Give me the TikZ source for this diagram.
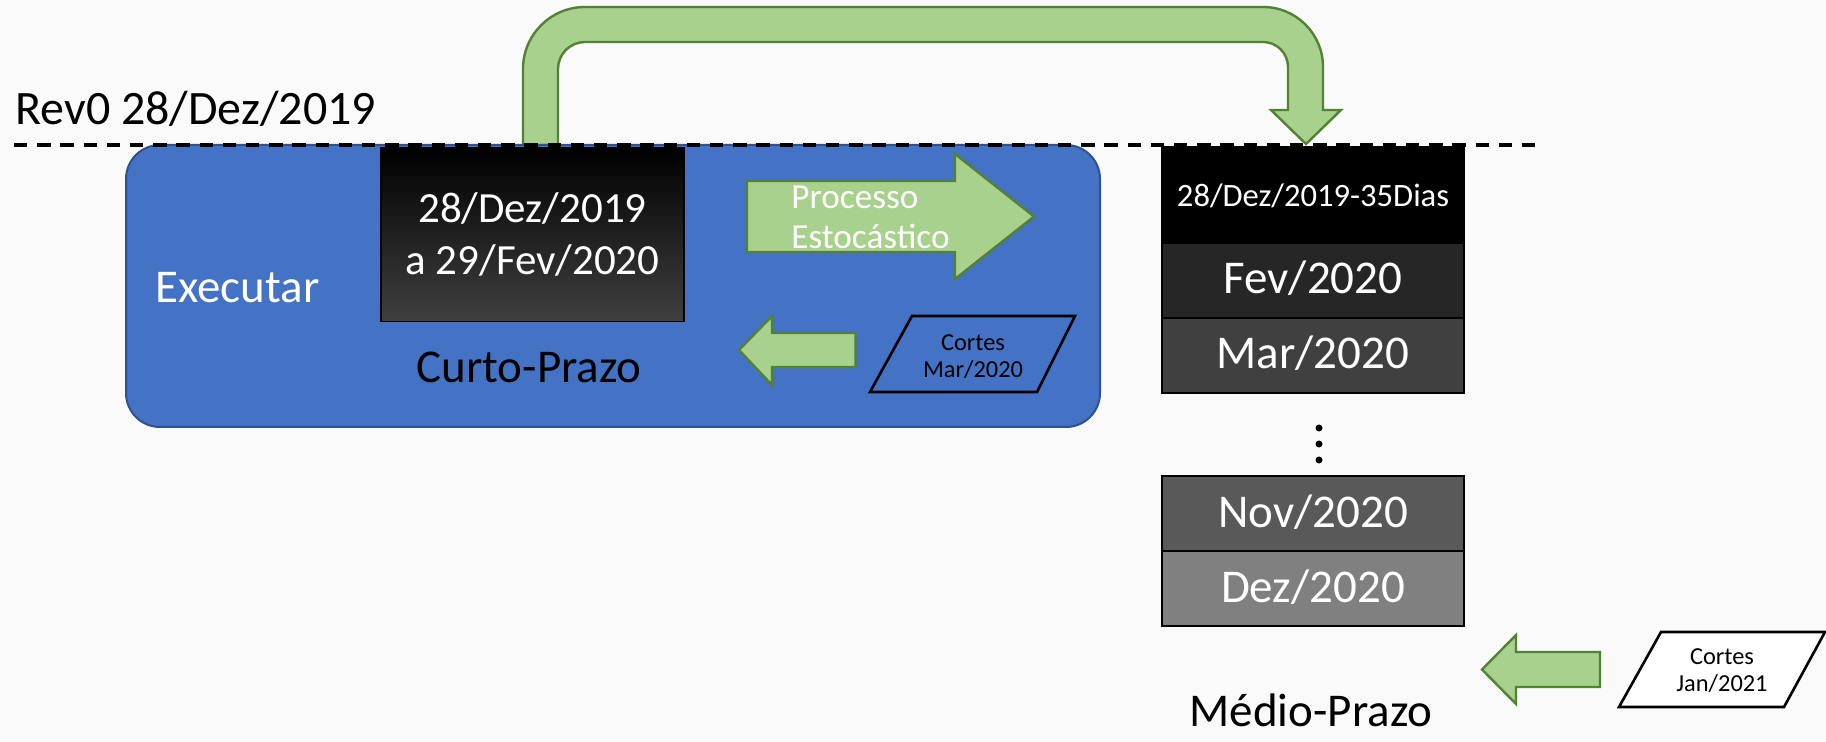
\documentclass[tikz,border=0pt]{standalone}
\usepackage{fontspec}
\setmainfont{Carlito}
\usepackage{tikz}
\usetikzlibrary{positioning, calc}

\definecolor{revblue}{HTML}{4472C4}
\definecolor{revblueline}{HTML}{2F528F}
\definecolor{arrowgreen}{HTML}{A9D18E}
\definecolor{arrowline}{HTML}{538135}
\definecolor{bggray}{HTML}{FAFAFA}

\tikzset{
  monthbox/.style={draw=black, line width=1pt, text=white, minimum width=151pt,
    minimum height=37.5pt, inner sep=0pt, outer sep=0pt,
    font=\fontsize{23.5}{28}\selectfont, text height=15.7pt, text depth=2.2pt},
  blockarrow/.style={fill=arrowgreen, draw=arrowline, line width=1.2pt},
  cutbox/.style={line width=1.3pt, line join=miter},
  lbl/.style={inner sep=0pt, font=\fontsize{23.5}{28}\selectfont},
  smalllbl/.style={align=center, inner sep=0pt, font=\fontsize{12.2}{13.6}\selectfont},
}

\begin{document}
\begin{tikzpicture}[x=0.5pt, y=0.5pt]
    % Canvas
    \useasboundingbox (0,0) rectangle (1826,-742);
    \fill[bggray] (0,0) rectangle (1826,-742);

    % Bent arrow over the top
    \filldraw[blockarrow] (523,-145) -- (523,-69) arc[start angle=180, end angle=90, radius=62]
        -- (1263,-7) arc[start angle=90, end angle=0, radius=60]
        -- (1323,-110) -- (1341,-110) -- (1306,-144) -- (1271,-110) -- (1288,-110)
        -- (1288,-67) arc[start angle=0, end angle=90, radius=25]
        -- (585,-42) arc[start angle=90, end angle=180, radius=27]
        -- (558,-145) -- cycle;

    % Short-term block
    \node[fill=revblue, draw=revblueline, line width=1pt, rounded corners=17pt,
        minimum width=487pt, minimum height=141pt, inner sep=0pt] (blk) at (613,-286) {};
    \node[draw=black, line width=0.8pt, top color=black, bottom color=black!75,
        minimum width=151.5pt, minimum height=87pt, inner sep=0pt, text=white, align=center,
        font=\fontsize{21.5}{26}\selectfont] (curto) at (532.5,-234.5) {28/Dez/2019\\a 29/Fev/2020};
    \node[lbl, text=white, anchor=base west] (exec) at (155,-303) {Executar};
    \node[lbl, anchor=base] (curtolbl) at (529,-383) {Curto-Prazo};

    % Stochastic process arrow
    \filldraw[blockarrow] (747,-181) -- (955,-181) -- (955,-154) -- (1034,-216.5)
        -- (955,-279) -- (955,-252) -- (747,-252) -- cycle;
    \node[text=white, align=left, anchor=west, inner sep=0pt, font=\fontsize{17.6}{19.85}\selectfont]
        (proc) at (791,-217) {Processo\\Estocástico};

    % Cuts back into the short term
    \filldraw[blockarrow] (739,-350) -- (772,-316) -- (772,-333) -- (855.5,-333)
        -- (855.5,-367) -- (772,-367) -- (772,-385) -- cycle;
    \draw[cutbox, fill=revblue] (912,-316) -- (1075,-316) -- (1037,-392) -- (870,-392) -- cycle;
    \node[smalllbl] (cmar) at (973,-356.5) {Cortes\\Mar/2020};

    % Medium-term months
    \node[monthbox, fill=black, minimum height=48pt, text height=13.5pt, text depth=1.5pt,
        font=\fontsize{16.3}{19}\selectfont] (d35) at (1313,-195) {28/Dez/2019-35Dias};
    \node[monthbox, fill=black!85, below=0pt of d35] (fev) {Fev/2020};
    \node[monthbox, fill=black!75, below=0pt of fev] (mar) {Mar/2020};
    \foreach \y in {428, 444, 460}
        \fill (1319,-\y) circle[radius=3.5];
    \node[monthbox, fill=black!65] (nov) at (1313,-514) {Nov/2020};
    \node[monthbox, fill=black!50, below=0pt of nov] (dez) {Dez/2020};

    % Revision line
    \node[lbl, anchor=base west, font=\fontsize{24}{28}\selectfont] (rev) at (15,-125) {Rev0 28/Dez/2019};
    \draw[line width=2pt, dash pattern=on 6.7pt off 4.9pt] (14,-145) -- (1541,-145);

    % Cuts back into the medium term
    \filldraw[blockarrow] (1482,-669.5) -- (1516,-635) -- (1516,-652) -- (1600,-652)
        -- (1600,-687) -- (1516,-687) -- (1516,-704) -- cycle;
    \draw[cutbox, fill=white] (1661,-632) -- (1825,-632) -- (1784,-707) -- (1619,-707) -- cycle;
    \node[smalllbl] (cjan) at (1722,-671) {Cortes\\Jan/2021};
    \node[lbl, anchor=base] (medio) at (1311,-726) {Médio-Prazo};
\end{tikzpicture}
\end{document}
